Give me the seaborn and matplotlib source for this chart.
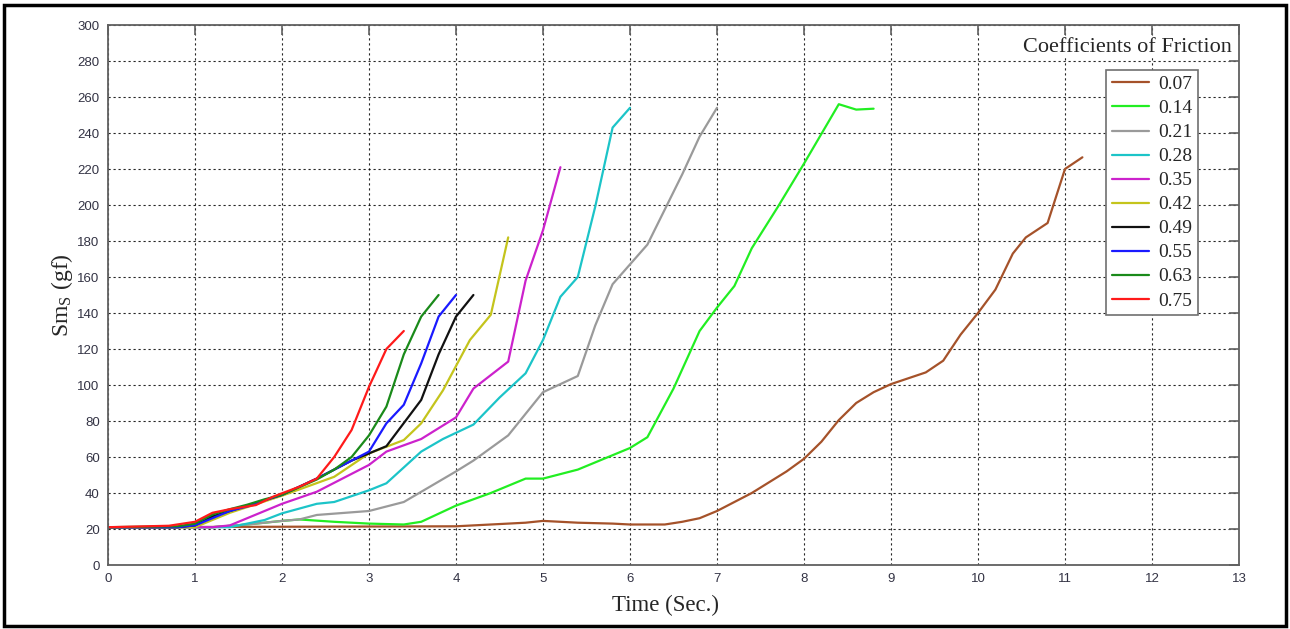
import pandas as pd
import matplotlib
matplotlib.use('Agg')
import matplotlib.pyplot as plt
import seaborn as sns
from matplotlib.patches import Rectangle

# friction coefficients and their curves (time in s, Sm_s in gf)
labels = ['0.07', '0.14', '0.21', '0.28', '0.35', '0.42', '0.49', '0.55', '0.63', '0.75']
colors = ['#a5522a', '#22ee22', '#9a9a9a', '#1cc4c8', '#cc22cc',
          '#c4c41c', '#111111', '#1a1aff', '#1a8a1a', '#ff1a1a']

t_007 = [0, 4.0, 4.4, 4.8, 5.0, 5.4, 5.8, 6.0, 6.4, 6.6, 6.8, 7.0, 7.4, 7.8, 8.0, 8.2, 8.4, 8.6,
         8.8, 9.0, 9.4, 9.6, 9.8, 10.0, 10.2, 10.4, 10.55, 10.8, 11.0, 11.2]
s_007 = [21, 21.5, 22.5, 23.5, 24.5, 23.5, 23, 22.5, 22.5, 24, 26, 30, 40, 52, 59, 68.5, 80.5, 90,
         96, 100.5, 107, 113.5, 128, 140, 153, 173, 182, 190, 220, 226.5]

t_014 = [0, 1.2, 1.6, 2.0, 2.2, 2.6, 3.0, 3.4, 3.6, 4.0, 4.4, 4.8, 5.0, 5.4, 5.8, 6.0, 6.2, 6.5,
         6.8, 7.0, 7.2, 7.4, 7.7, 8.0, 8.4, 8.6, 8.8]
s_014 = [21, 21, 22.5, 24.5, 25.3, 24, 23, 22.5, 24, 33, 40, 48, 48, 53, 61, 65, 71, 98,
         130, 143, 155, 176, 199, 223, 256, 253, 253.5]

t_021 = [0, 1.2, 1.6, 2.0, 2.2, 2.4, 3.0, 3.4, 4.0, 4.2, 4.6, 5.0, 5.4, 5.6, 5.8, 6.2, 6.6, 6.8, 7.0]
s_021 = [21, 21, 22.5, 24.5, 25.3, 27.8, 30, 35, 52, 58, 72, 96, 105, 133, 156, 178, 217, 238, 254]

t_028 = [0, 1.4, 1.8, 2.0, 2.4, 2.6, 3.0, 3.2, 3.6, 3.85, 4.2, 4.5, 4.8, 5.0, 5.2, 5.4, 5.6, 5.8, 6.0]
s_028 = [21, 21, 25, 28.7, 34, 35, 41.5, 45.4, 63, 70, 78, 93, 106.5, 125, 149, 160, 199, 243, 254]

t_035 = [0, 1.2, 1.4, 2.0, 2.4, 3.0, 3.2, 3.6, 4.0, 4.2, 4.6, 4.8, 5.0, 5.2]
s_035 = [21, 21, 22, 34, 40.7, 55.6, 63, 70, 82, 98, 113, 158, 186, 221]

t_042 = [0, 1.0, 1.4, 2.0, 2.6, 3.0, 3.4, 3.6, 3.85, 4.16, 4.4, 4.6]
s_042 = [21, 21, 29, 38.5, 49, 62, 69.4, 78.7, 97, 125, 139, 182]

t_049 = [0, 0.8, 1.0, 1.2, 1.4, 1.6, 1.8, 2.0, 2.4, 2.8, 3.0, 3.2, 3.6, 3.8, 4.0, 4.2]
s_049 = [21, 21, 22, 27, 30, 33, 36, 39, 48, 58, 62, 66, 91.7, 117, 138, 150]

t_055 = [0, 0.8, 1.0, 1.2, 1.4, 1.6, 1.8, 2.0, 2.4, 2.8, 3.0, 3.2, 3.4, 3.6, 3.8, 4.0]
s_055 = [21, 21, 22, 26, 30, 32.5, 36, 39, 48, 58, 63, 78.7, 89, 112, 138, 150]

t_063 = [0, 0.8, 1.0, 1.2, 1.4, 1.6, 1.8, 2.0, 2.4, 2.6, 2.8, 3.0, 3.2, 3.4, 3.6, 3.8]
s_063 = [21, 21.5, 23, 28, 31, 33.5, 36.5, 39, 47.5, 53, 60, 72, 88, 117, 138, 150]

t_075 = [0, 0.7, 1.0, 1.2, 1.4, 1.7, 1.9, 2.2, 2.4, 2.6, 2.8, 3.0, 3.2, 3.4]
s_075 = [21, 21.8, 24, 29, 31, 33.3, 38, 43.5, 48, 60, 75, 99, 120, 130]

times = [t_007, t_014, t_021, t_028, t_035, t_042, t_049, t_055, t_063, t_075]
values = [s_007, s_014, s_021, s_028, s_035, s_042, s_049, s_055, s_063, s_075]

frames = []
for lab, t, s in zip(labels, times, values):
    frames.append(pd.DataFrame({'time': t, 'sms': s, 'mu': lab}))
df = pd.concat(frames, ignore_index=True)

sns.set_style('white')
plt.rcParams['font.family'] = ['Liberation Sans', 'DejaVu Sans']
plt.rcParams['mathtext.fontset'] = 'custom'
plt.rcParams['mathtext.rm'] = 'Liberation Serif'
plt.rcParams['mathtext.it'] = 'Liberation Serif:italic'

fig = plt.figure(figsize=(12.9, 6.29), dpi=100)
ax = fig.add_axes([108 / 1290, 64 / 629, 1131 / 1290, 540 / 629])

sns.lineplot(data=df, x='time', y='sms', hue='mu', hue_order=labels,
             palette=dict(zip(labels, colors)), linewidth=1.6, sort=False,
             estimator=None, ax=ax)

ax.set_xlim(0, 13)
ax.set_ylim(0, 300)
ax.set_xticks(range(0, 14))
ax.set_yticks(range(0, 301, 20))
ax.grid(True, linestyle=(0, (2, 2.5)), color='black', linewidth=0.8, alpha=0.85)
for sp in ax.spines.values():
    sp.set_color('#606060')
    sp.set_linewidth(1.3)
ax.tick_params(direction='in', length=7, width=1.2, color='#606060', top=True, right=True,
               labelsize=9.5, labelcolor='#333344', pad=6)

serif = ['Liberation Serif', 'DejaVu Serif']
ax.set_xlabel('Time (Sec.)', fontsize=16.5, family=serif, labelpad=3)
ax.set_ylabel('Sm$_{\\mathrm{S}}$ (gf)', fontsize=17, family=serif, labelpad=2)
ax.xaxis.set_label_coords(0.493, -0.055)

sns.move_legend(ax, 'upper right', bbox_to_anchor=(0.964, 0.917), borderaxespad=0,
                title=None, frameon=True, fancybox=False, edgecolor='#707070',
                framealpha=1, prop={'family': serif, 'size': 14},
                handlelength=1.95, labelspacing=0.33, borderpad=0.3, handletextpad=0.45)
ax.get_legend().get_frame().set_linewidth(1.2)

ax.text(0.994, 0.959, 'Coefficients of Friction', transform=ax.transAxes, ha='right', va='center',
        fontsize=16, family=serif,
        bbox=dict(facecolor='white', edgecolor='none', pad=1))

fig.patches.append(Rectangle((4 / 1290, 3 / 629), 1282 / 1290, 621 / 629, transform=fig.transFigure,
                             fill=False, edgecolor='black', linewidth=2.5))

fig.savefig('out.png', dpi=100)
